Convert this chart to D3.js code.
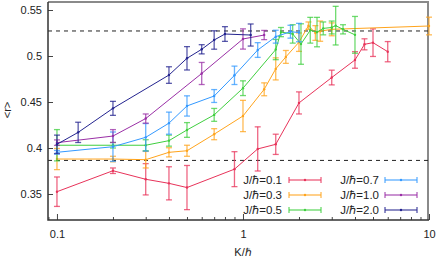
<!DOCTYPE html>
<html>
<head>
<meta charset="utf-8">
<script src="https://cdn.jsdelivr.net/npm/d3@7"></script>
<style>
  body { margin: 0; background: #fff; }
  svg text { font-family: "Liberation Sans", Arial, sans-serif; }
</style>
</head>
<body>
<svg id="chart" width="436" height="259"></svg>
<script>
// J/hbar = 0.1
let k01 = [0.1, 0.2, 0.3, 0.4, 0.5, 0.9, 1.2, 1.5, 2, 3, 4, 4.5, 5, 6]
let r01 = [0.3525, 0.3753, 0.366, 0.3616, 0.357, 0.377, 0.399, 0.404, 0.449, 0.4766, 0.4957, 0.5127, 0.5145, 0.5047]
let e01 = [0.016, 0.003, 0.017, 0.018, 0.024, 0.019, 0.024, 0.011, 0.012, 0.008, 0.009, 0.006, 0.015, 0.011]
// J/hbar = 0.3
let k03 = [0.1, 0.2, 0.3, 0.4, 0.5, 0.7, 1, 1.3, 1.5, 1.7, 2, 2.25, 2.45, 2.6, 3, 10]
let r03 = [0.388, 0.388, 0.3873, 0.3953, 0.397, 0.415, 0.4348, 0.4638, 0.486, 0.499, 0.515, 0.533, 0.525, 0.527, 0.529, 0.5326]
let e03 = [0.0115, 0.003, 0.009, 0.005, 0.006, 0.006, 0.017, 0.007, 0.012, 0.007, 0.01, 0.004, 0.008, 0.011, 0.007, 0.0096]
// J/hbar = 0.5
let k05 = [0.1, 0.2, 0.3, 0.4, 0.5, 0.7, 1, 1.5, 1.6, 1.85, 2.05, 2.3, 2.5, 2.7, 3, 3.15, 3.45, 4]
let r05 = [0.403, 0.403, 0.403, 0.408, 0.4196, 0.436, 0.465, 0.507, 0.526, 0.524, 0.513, 0.528, 0.526, 0.530, 0.531, 0.533, 0.529, 0.523]
let e05 = [0.017, 0.003, 0.006, 0.006, 0.008, 0.007, 0.008, 0.011, 0.005, 0.01, 0.022, 0.014, 0.016, 0.007, 0.007, 0.021, 0.005, 0.02]
// J/hbar = 0.7
let k07 = [0.1, 0.2, 0.3, 0.4, 0.5, 0.7, 0.9, 1.2, 1.5, 1.8, 2]
let r07 = [0.3953, 0.4014, 0.4116, 0.427, 0.4457, 0.4565, 0.479, 0.5065, 0.521, 0.5264, 0.5255]
let e07 = [0.002, 0.016, 0.015, 0.012, 0.011, 0.007, 0.01, 0.008, 0.007, 0.007, 0.01]
// J/hbar = 1.0
let k10 = [0.1, 0.2, 0.3, 0.6, 1, 1.3]
let r10 = [0.4058, 0.413, 0.432, 0.481, 0.5185, 0.5228]
let e10 = [0.003, 0.007, 0.005, 0.012, 0.011, 0.005]
// J/hbar = 2.0
let k20 = [0.1, 0.13, 0.2, 0.4, 0.5, 0.6, 0.7, 0.8, 1.1]
let r20 = [0.404, 0.417, 0.4431, 0.4793, 0.4975, 0.5073, 0.5174, 0.5239, 0.5228]
let e20 = [0.01, 0.011, 0.0076, 0.009, 0.0127, 0.005, 0.01, 0.008, 0.012]

let labels = ['J/\u210F=0.1', 'J/\u210F=0.3', 'J/\u210F=0.5', 'J/\u210F=0.7', 'J/\u210F=1.0', 'J/\u210F=2.0']
let colors = ['#e8335a', '#ffa41c', '#3fcf3f', '#3399ff', '#9a2fa6', '#23238f']
let dashLevels = [0.5272, 0.3865]
let xTicks = [0.1, 1, 10]
let yTicks = [0.35, 0.4, 0.45, 0.5, 0.55]

let series = [[k01, r01, e01], [k03, r03, e03], [k05, r05, e05],
              [k07, r07, e07], [k10, r10, e10], [k20, r20, e20]]

let svg = d3.select('#chart')
let pL = 48, pR = 428, pT = 2, pB = 220

let x = d3.scaleLog().domain([0.0895, 10]).range([pL, 429])
let y = d3.scaleLinear().domain([0.32174, 0.5587]).range([pB, pT])

// frame: top/right grey
svg.append('path')
   .attr('d', 'M' + pL + ',' + pT + 'H' + pR + 'V' + pB)
   .attr('fill', 'none').attr('stroke', '#8a8a8a').attr('stroke-width', 2)

// dashed reference lines
svg.selectAll('line.dash').data(dashLevels).enter().append('line')
   .attr('class', 'dash')
   .attr('x1', pL).attr('x2', pR)
   .attr('y1', d => y(d)).attr('y2', d => y(d))
   .attr('stroke', '#222').attr('stroke-width', 1).attr('stroke-dasharray', '4,4')

// axes (ticks point inwards)
let xMinor = []
;[0.1, 1].forEach(b => { for (let m = 2; m <= 9; m++) xMinor.push(b * m) })
xMinor.push(0.09)

let gx = svg.append('g').attr('transform', 'translate(0,' + pB + ')')
gx.call(d3.axisBottom(x).tickValues(xMinor).tickSize(-3).tickFormat(''))
gx.select('.domain').remove()
let gx2 = svg.append('g').attr('transform', 'translate(0,' + pB + ')')
gx2.call(d3.axisBottom(x).tickValues(xTicks).tickSize(-6).tickPadding(10)
   .tickFormat(d => d3.format('~g')(d)))
gx2.select('.domain').remove()

let gy = svg.append('g').attr('transform', 'translate(' + pL + ',0)')
gy.call(d3.axisLeft(y).tickValues(yTicks).tickSize(-5).tickPadding(6)
   .tickFormat(d => d3.format('~g')(d)))
gy.select('.domain').remove()

svg.selectAll('.tick line').attr('stroke', '#444')
svg.selectAll('.tick text').attr('font-size', 11).attr('fill', '#222')
   .style('font-family', '"Liberation Sans", Arial, sans-serif')

// left/bottom axis lines
svg.append('path')
   .attr('d', 'M' + pL + ',' + pT + 'V' + pB + 'H' + (pR + 1))
   .attr('fill', 'none').attr('stroke', '#333').attr('stroke-width', 1.5)

// axis titles
svg.append('text').attr('x', 243).attr('y', 256).attr('text-anchor', 'middle')
   .attr('font-size', 11).attr('fill', '#222').text('K/\u210F')
svg.append('text').attr('transform', 'translate(11,110) rotate(-90)')
   .attr('text-anchor', 'middle').attr('font-size', 11).attr('fill', '#222').text('<r>')

// data
let line = d3.line().x(d => x(d[0])).y(d => y(d[1]))
series.forEach((s, i) => {
    let pts = s[0].map((k, j) => [k, s[1][j], s[2][j]])
    let g = svg.append('g')
    g.append('path').datum(pts).attr('d', line)
     .attr('fill', 'none').attr('stroke', colors[i]).attr('stroke-width', 1)
    let eb = g.selectAll('g.eb').data(pts).enter().append('g')
              .attr('stroke', colors[i]).attr('stroke-opacity', 0.75).attr('stroke-width', 1.3)
    eb.append('line').attr('x1', d => x(d[0])).attr('x2', d => x(d[0]))
      .attr('y1', d => y(d[1] - d[2])).attr('y2', d => y(d[1] + d[2]))
    eb.append('line').attr('x1', d => x(d[0]) - 3).attr('x2', d => x(d[0]) + 3)
      .attr('y1', d => y(d[1] - d[2])).attr('y2', d => y(d[1] - d[2]))
    eb.append('line').attr('x1', d => x(d[0]) - 3).attr('x2', d => x(d[0]) + 3)
      .attr('y1', d => y(d[1] + d[2])).attr('y2', d => y(d[1] + d[2]))
    g.selectAll('circle').data(pts).enter().append('circle')
     .attr('cx', d => x(d[0])).attr('cy', d => y(d[1])).attr('r', 1.2)
     .attr('fill', colors[i])
})

// legend
let leg = svg.append('g')
labels.forEach((lab, i) => {
    let col = Math.floor(i / 3), row = i % 3
    let tx = col ? 379 : 282, sx = col ? 385 : 289
    let yy = 180 + row * 15
    leg.append('text').attr('x', tx).attr('y', yy + 4).attr('text-anchor', 'end')
       .attr('font-size', 11.5).attr('fill', '#222').text(lab)
    let lg = leg.append('g').attr('stroke', colors[i])
    lg.append('line').attr('x1', sx).attr('x2', sx + 32).attr('y1', yy).attr('y2', yy)
      .attr('stroke-width', 1.3).attr('stroke-opacity', 0.8)
    lg.append('line').attr('x1', sx).attr('x2', sx).attr('y1', yy - 3).attr('y2', yy + 3)
    lg.append('line').attr('x1', sx + 32).attr('x2', sx + 32).attr('y1', yy - 3).attr('y2', yy + 3)
    leg.append('circle').attr('cx', sx + 16).attr('cy', yy).attr('r', 1.2).attr('fill', colors[i])
})
</script>
</body>
</html>
